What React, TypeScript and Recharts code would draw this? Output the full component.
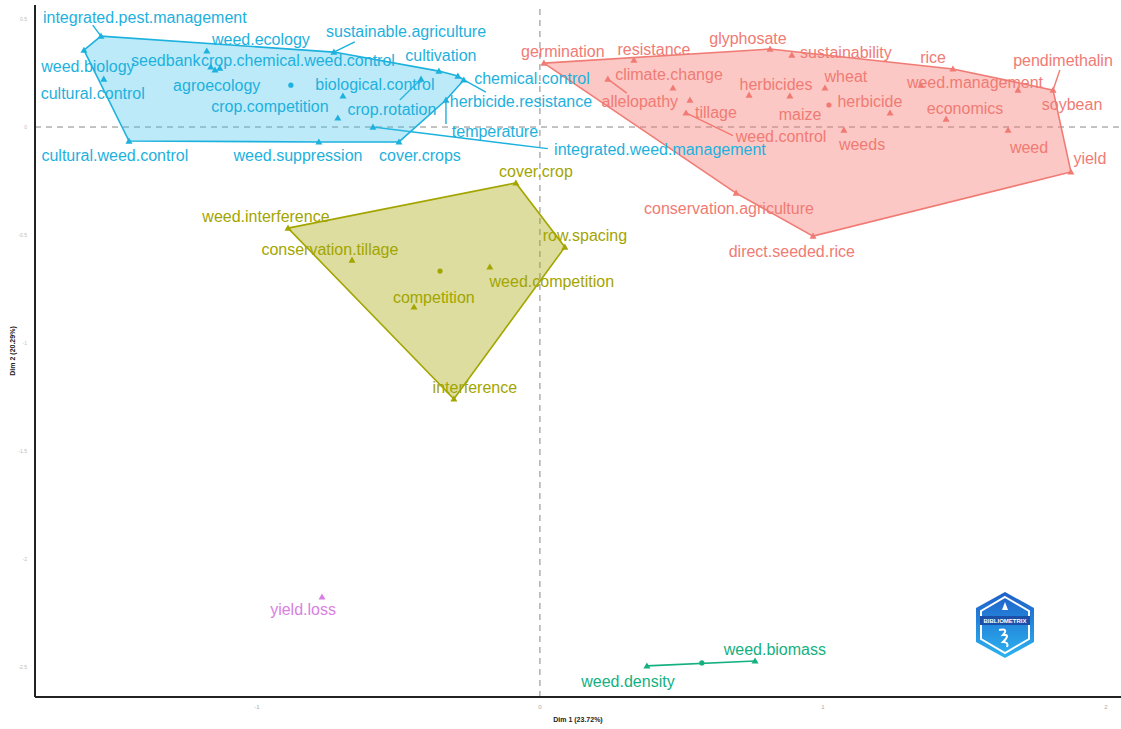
import React from "react"
import { ScatterChart, Scatter, XAxis, YAxis, ReferenceLine } from "recharts"

// word coordinates: [term, dim1, dim2]
const blueWords: [string, number, number][] = [
  ["integrated.pest.management", -1.551, 0.421],
  ["weed.biology", -1.611, 0.356],
  ["cultural.control", -1.541, 0.222],
  ["cultural.weed.control", -1.452, -0.065],
  ["weed.ecology", -1.177, 0.352],
  ["seedbank", -1.163, 0.278],
  ["crop.chemical.weed.control", -1.131, 0.273],
  ["agroecology", -1.148, 0.264],
  ["sustainable.agriculture", -0.728, 0.347],
  ["cultivation", -0.357, 0.259],
  ["chemical.control", -0.29, 0.236],
  ["herbicide.resistance", -0.269, 0.218],
  ["biological.control", -0.696, 0.144],
  ["crop.rotation", -0.42, 0.222],
  ["crop.competition", -0.714, 0.042],
  ["temperature", -0.332, 0.125],
  ["integrated.weed.management", -0.59, 0.0],
  ["weed.suppression", -0.781, -0.069],
  ["cover.crops", -0.498, -0.069],
]

const redWords: [string, number, number][] = [
  ["germination", 0.014, 0.296],
  ["resistance", 0.332, 0.31],
  ["glyphosate", 0.813, 0.361],
  ["sustainability", 0.89, 0.333],
  ["rice", 1.459, 0.269],
  ["pendimethalin", 1.813, 0.171],
  ["weed.management", 1.346, 0.194],
  ["soybean", 1.689, 0.171],
  ["economics", 1.435, 0.037],
  ["climate.change", 0.47, 0.181],
  ["allelopathy", 0.24, 0.222],
  ["herbicides", 0.739, 0.148],
  ["wheat", 1.007, 0.181],
  ["maize", 0.883, 0.144],
  ["herbicide", 1.237, 0.065],
  ["tillage", 0.53, 0.125],
  ["weed.control", 0.516, 0.065],
  ["weeds", 1.074, -0.014],
  ["weed", 1.654, -0.014],
  ["yield", 1.876, -0.208],
  ["conservation.agriculture", 0.693, -0.306],
  ["direct.seeded.rice", 0.965, -0.505],
]

const oliveWords: [string, number, number][] = [
  ["cover.crop", -0.085, -0.259],
  ["weed.interference", -0.89, -0.468],
  ["row.spacing", 0.088, -0.556],
  ["conservation.tillage", -0.664, -0.616],
  ["weed.competition", -0.177, -0.648],
  ["competition", -0.445, -0.833],
  ["interference", -0.304, -1.259],
]

const greenWords: [string, number, number][] = [
  ["weed.density", 0.378, -2.495],
  ["weed.biomass", 0.76, -2.472],
]

const magentaWords: [string, number, number][] = [["yield.loss", -0.77, -2.176]]

// cluster centroids: [dim1, dim2]
const blueCenter = [-0.88, 0.194]
const redCenter = [1.021, 0.102]
const oliveCenter = [-0.353, -0.667]
const greenCenter = [0.572, -2.481]

// where the repelled labels ended up (dim1, dim2)
const labelSpots: Record<string, [number, number]> = {
  "integrated.pest.management": [-1.396, 0.509],
  "weed.biology": [-1.597, 0.278],
  "cultural.control": [-1.58, 0.157],
  "cultural.weed.control": [-1.502, -0.13],
  "weed.ecology": [-0.986, 0.407],
  seedbank: [-1.322, 0.31],
  "crop.chemical.weed.control": [-0.855, 0.31],
  agroecology: [-1.142, 0.19],
  "sustainable.agriculture": [-0.473, 0.44],
  cultivation: [-0.35, 0.329],
  "chemical.control": [-0.028, 0.227],
  "herbicide.resistance": [-0.067, 0.116],
  "biological.control": [-0.583, 0.199],
  "crop.rotation": [-0.523, 0.083],
  "crop.competition": [-0.954, 0.097],
  temperature: [-0.159, -0.023],
  "integrated.weed.management": [0.424, -0.102],
  "weed.suppression": [-0.855, -0.134],
  "cover.crops": [-0.424, -0.134],
  germination: [0.081, 0.352],
  resistance: [0.403, 0.361],
  glyphosate: [0.735, 0.412],
  sustainability: [1.081, 0.347],
  rice: [1.389, 0.324],
  pendimethalin: [1.848, 0.31],
  "weed.management": [1.537, 0.208],
  soybean: [1.88, 0.102],
  economics: [1.502, 0.088],
  "climate.change": [0.456, 0.245],
  allelopathy: [0.353, 0.116],
  herbicides: [0.834, 0.199],
  wheat: [1.081, 0.236],
  maize: [0.919, 0.056],
  herbicide: [1.166, 0.116],
  tillage: [0.622, 0.065],
  "weed.control": [0.852, -0.046],
  weeds: [1.138, -0.083],
  weed: [1.728, -0.093],
  yield: [1.943, -0.144],
  "conservation.agriculture": [0.668, -0.375],
  "direct.seeded.rice": [0.89, -0.574],
  "cover.crop": [-0.014, -0.204],
  "weed.interference": [-0.968, -0.412],
  "row.spacing": [0.159, -0.5],
  "conservation.tillage": [-0.742, -0.569],
  "weed.competition": [0.042, -0.713],
  competition: [-0.375, -0.787],
  interference: [-0.23, -1.204],
  "weed.density": [0.311, -2.565],
  "weed.biomass": [0.83, -2.421],
  "yield.loss": [-0.837, -2.236],
}

// leader segments end points (dim1, dim2)
const leaders: Record<string, [number, number]> = {
  "integrated.pest.management": [-1.58, 0.472],
  "sustainable.agriculture": [-0.654, 0.394],
  "crop.rotation": [-0.495, 0.125],
  "integrated.weed.management": [0.028, -0.1],
  temperature: [-0.332, 0.014],
  "herbicide.resistance": [-0.191, 0.162],
  pendimethalin: [1.837, 0.264],
  allelopathy: [0.307, 0.157],
  "weed.control": [0.682, -0.04],
}

const xTicks = [-1, 0, 1, 2]
const yTicks = [0.5, 0, -0.5, -1, -1.5, -2, -2.5]

type Pt = { name: string; x: number; y: number }

const toPts = (rows: [string, number, number][]): Pt[] => rows.map(([name, x, y]) => ({ name, x, y }))

function hull(pts: Pt[]): Pt[] {
  const p = [...pts].sort((a, b) => a.x - b.x || a.y - b.y)
  if (p.length < 3) return [...p, p[0]]
  const cross = (o: Pt, a: Pt, b: Pt) => (a.x - o.x) * (b.y - o.y) - (a.y - o.y) * (b.x - o.x)
  const lower: Pt[] = []
  for (const q of p) {
    while (lower.length >= 2 && cross(lower[lower.length - 2], lower[lower.length - 1], q) <= 0) lower.pop()
    lower.push(q)
  }
  const upper: Pt[] = []
  for (const q of [...p].reverse()) {
    while (upper.length >= 2 && cross(upper[upper.length - 2], upper[upper.length - 1], q) <= 0) upper.pop()
    upper.push(q)
  }
  lower.pop()
  upper.pop()
  const h = lower.concat(upper)
  return [...h, h[0]]
}

const clusters = [
  { key: "blue", words: toPts(blueWords), center: blueCenter, color: "#1DB1DE", fill: "#3FC3EE", fillOpacity: 0.35 },
  { key: "red", words: toPts(redWords), center: redCenter, color: "#F07B74", fill: "#F8766D", fillOpacity: 0.4 },
  { key: "olive", words: toPts(oliveWords), center: oliveCenter, color: "#A3A500", fill: "#A3A500", fillOpacity: 0.38 },
  { key: "green", words: toPts(greenWords), center: greenCenter, color: "#14B07F", fill: "#00BF7D", fillOpacity: 0.3 },
  { key: "magenta", words: toPts(magentaWords), center: null, color: "#D97FE3", fill: "#E76BF3", fillOpacity: 0.3 },
]

const font = "'Liberation Sans', Arial, sans-serif"

const triangle = (color: string) => (props: any) => {
  const { cx, cy } = props
  return <path d={`M${cx},${cy - 3.5}L${cx + 3.5},${cy + 2.6}L${cx - 3.5},${cy + 2.6}Z`} fill={color} />
}

const dot = (color: string) => (props: any) => <circle cx={props.cx} cy={props.cy} r={2.6} fill={color} />

const word = (color: string) => (props: any) => (
  <text
    x={props.cx}
    y={props.cy}
    textAnchor="middle"
    dominantBaseline="central"
    fontSize={16}
    fontFamily={font}
    fill={color}
  >
    {props.payload.name}
  </text>
)

function Logo() {
  return (
    <svg width={64} height={70} viewBox="0 0 64 70" style={{ position: "absolute", left: 973, top: 590 }}>
      <defs>
        <linearGradient id="lg" x1="0" y1="0" x2="0" y2="1">
          <stop offset="0" stopColor="#1F5FC8" />
          <stop offset="1" stopColor="#2BB4F0" />
        </linearGradient>
      </defs>
      <polygon points="32,2 61,18 61,52 32,68 3,52 3,18" fill="url(#lg)" />
      <polygon points="32,7 56,21 56,49 32,63 8,49 8,21" fill="none" stroke="#fff" strokeWidth={2} />
      <rect x={7} y={26} width={50} height={9} fill="#1B4FA8" />
      <text x={32} y={33} textAnchor="middle" fontSize={6} fontWeight="bold" fill="#fff" fontFamily={font}>
        BIBLIOMETRIX
      </text>
      <path d="M32,12 L35,20 L29,20 Z" fill="#fff" />
      <path d="M26,40 Q36,38 30,45 Q38,44 30,52 Q36,52 34,57" fill="none" stroke="#fff" strokeWidth={2} />
    </svg>
  )
}

export default function App() {
  return (
    <div style={{ position: "absolute", left: 0, top: 0, width: 1121, height: 729, background: "#fff", fontFamily: font }}>
      <ScatterChart width={1121} height={729} margin={{ top: 5, right: 0, bottom: 0, left: 0 }}>
        <XAxis
          type="number"
          dataKey="x"
          domain={[-1.784, 2.053]}
          ticks={xTicks}
          allowDataOverflow
          axisLine={{ stroke: "#222", strokeWidth: 2 }}
          tickLine={false}
          tick={{ fontSize: 6, fill: "#aaa", fontFamily: font }}
          height={32}
          label={{ value: "Dim 1 (23.72%)", position: "insideBottom", offset: 7, fontSize: 7, fontWeight: "bold", fill: "#222", fontFamily: font }}
        />
        <YAxis
          type="number"
          dataKey="y"
          domain={[-2.639, 0.565]}
          ticks={yTicks}
          allowDataOverflow
          axisLine={{ stroke: "#222", strokeWidth: 2 }}
          tickLine={false}
          tick={{ fontSize: 5, fill: "#bbb", fontFamily: font }}
          width={35}
          label={{
            content: (p: any) => {
              const vb = p.viewBox
              const cx = vb.x + 12
              const cy = vb.y + vb.height / 2
              return (
                <text x={cx} y={cy} transform={`rotate(-90 ${cx} ${cy})`} textAnchor="middle" dominantBaseline="central" fontSize={7} fontWeight="bold" fill="#222" fontFamily={font}>
                  Dim 2 (20.29%)
                </text>
              )
            },
          }}
        />
        <ReferenceLine x={0} stroke="#888" strokeDasharray="6 5" />
        <ReferenceLine y={0} stroke="#888" strokeDasharray="6 5" />
        {clusters
          .filter((c) => c.words.length > 1)
          .map((c) => (
            <Scatter
              key={c.key + "-hull"}
              data={hull(c.words)}
              isAnimationActive={false}
              shape={() => <g />}
              line={{ stroke: c.color, strokeWidth: 1.6, fill: c.fill, fillOpacity: c.fillOpacity }}
            />
          ))}
        {clusters.flatMap((c) =>
          c.words
            .filter((w) => leaders[w.name])
            .map((w) => (
              <ReferenceLine
                key={"seg-" + w.name}
                segment={[
                  { x: w.x, y: w.y },
                  { x: leaders[w.name][0], y: leaders[w.name][1] },
                ]}
                stroke={c.color}
                strokeWidth={1.4}
              />
            ))
        )}
        {clusters.map((c) => (
          <Scatter key={c.key + "-pts"} data={c.words} isAnimationActive={false} shape={triangle(c.color)} />
        ))}
        {clusters
          .filter((c) => c.center)
          .map((c) => (
            <Scatter
              key={c.key + "-ctr"}
              data={[{ x: c.center![0], y: c.center![1] }]}
              isAnimationActive={false}
              shape={dot(c.color)}
            />
          ))}
        {clusters.map((c) => (
          <Scatter
            key={c.key + "-lbl"}
            data={c.words.map((w) => ({ name: w.name, x: labelSpots[w.name][0], y: labelSpots[w.name][1] }))}
            isAnimationActive={false}
            shape={word(c.color)}
          />
        ))}
      </ScatterChart>
      <Logo />
    </div>
  )
}
